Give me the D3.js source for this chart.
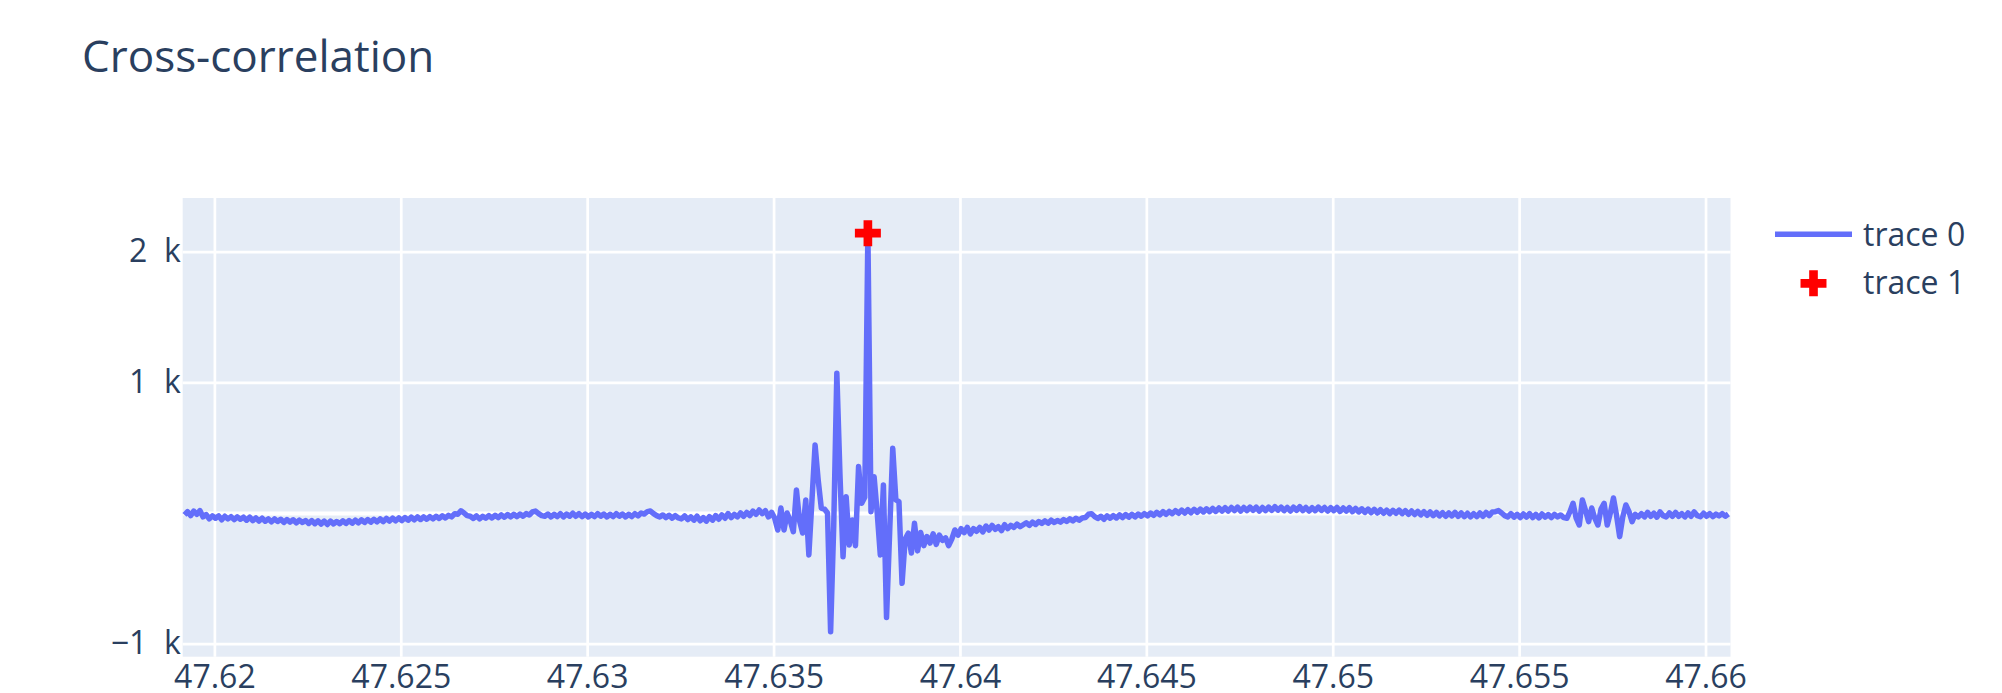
<!DOCTYPE html>
<html>
<head>
<meta charset="utf-8">
<script src="https://cdn.jsdelivr.net/npm/d3@7"></script>
<style>
  body { margin: 0; background: #fff; }
  text { font-family: "Open Sans", sans-serif; fill: #2a3f5f; }
</style>
</head>
<body>
<svg id="chart" width="2002" height="693"></svg>
<script>
var title = "Cross-correlation";

// cross-correlation lags, sampled at 12 kHz starting at startTime
var startTime = 47.619197;
var sampleRate = 12000;
var xcorr = [
  -15, 10, -20, 15, -10, 18, -30, -12, -45, -22,
  -40, -22, -52, -25, -45, -28, -50, -30, -48, -32,
  -55, -32, -58, -38, -62, -40, -63, -45, -68, -45,
  -65, -48, -72, -50, -70, -52, -75, -55, -72, -58,
  -80, -58, -82, -60, -85, -62, -88, -62, -84, -65,
  -82, -60, -80, -58, -78, -55, -75, -52, -72, -50,
  -70, -48, -68, -45, -66, -42, -62, -40, -60, -38,
  -58, -35, -55, -32, -52, -30, -50, -30, -48, -28,
  -45, -25, -42, -22, -38, -18, -30, -5, -10, 17,
  0, -20, -25, -42, -22, -45, -25, -40, -20, -38,
  -18, -35, -15, -32, -12, -30, -10, -28, -8, -25,
  -5, -15, 8, 15, -5, -20, -25, -8, -30, -10,
  -28, -5, -30, -8, -25, -2, -25, -5, -28, -8,
  -30, -10, -28, -5, -25, -8, -30, -10, -28, -5,
  -25, -8, -30, -10, -28, -5, -22, 0, -8, 10,
  15, -5, -20, -30, -15, -35, -18, -40, -20, -38,
  -45, -22, -50, -30, -55, -25, -60, -35, -62, -28,
  -55, -20, -48, -15, -40, -5, -35, -10, -30, 0,
  -25, 5, -20, 15, -10, 23, -5, 18, -30, 5,
  -40, -130, 38, -130, 0, -60, -143, 176, -60, -153,
  100, -321, 100, 520, 253, 38, 30, 0, -909, -100,
  1070, 300, -335, 125, -245, -54, -250, 355, 74, 120,
  2142, 10, 278, 0, -321, 214, -800, -150, 495, 100,
  87, -538, -200, -155, -306, -79, -290, -150, -250, -180,
  -230, -160, -240, -170, -210, -190, -250, -200, -130, -170,
  -120, -150, -110, -160, -120, -140, -110, -145, -100, -130,
  -95, -125, -105, -135, -90, -120, -95, -110, -85, -105,
  -90, -75, -95, -70, -88, -65, -80, -60, -78, -55,
  -72, -58, -70, -50, -65, -45, -60, -40, -55, -38,
  -35, -10, -5, -28, -42, -25, -48, -22, -40, -20,
  -38, -15, -35, -12, -32, -10, -30, -8, -25, -5,
  -22, 0, -18, 5, -15, 10, -10, 12, -5, 18,
  -2, 22, 0, 25, 2, 28, 5, 30, 8, 32,
  10, 35, 12, 38, 15, 40, 15, 42, 18, 45,
  15, 42, 18, 45, 20, 45, 15, 42, 18, 45,
  20, 48, 22, 45, 18, 42, 15, 45, 20, 48,
  18, 42, 15, 40, 18, 45, 20, 42, 15, 40,
  18, 42, 12, 38, 15, 40, 10, 35, 8, 32,
  5, 30, 2, 28, 0, 25, -2, 22, -5, 20,
  -2, 22, -5, 18, -10, 15, -12, 12, -15, 10,
  -18, 8, -20, 5, -22, 2, -25, 0, -22, 5,
  -25, 0, -28, -2, -30, -5, -28, 0, -25, 5,
  -20, 8, 10, 18, 0, -20, -30, -5, -32, -10,
  -35, -8, -32, -5, -35, -10, -38, -8, -32, -12,
  -35, -10, -30, -15, -35, -40, 10, 74, -40, -92,
  100, 20, -66, 38, -40, -92, 30, 74, -92, 0,
  115, -20, -181, -30, 61, 10, -66, -10, -30, -5,
  -30, 5, -25, -2, -32, 8, -20, -30, 0, -25,
  5, -25, -5, -30, 0, -25, 8, -20, -28, -2,
  -25, -5, -28, -8, -22, -5, -25, -8
];

// detected peak
var peakTime = [47.63753];
var peakValue = [2142];

var xTicks = [47.62, 47.625, 47.63, 47.635, 47.64, 47.645, 47.65, 47.655, 47.66];
var yTicks = [-1000, 0, 1000, 2000];
var legendNames = ["trace 0", "trace 1"];

var lineColor = "#636efa";
var markerColor = "#ff0000";

var plot = { left: 182.7, right: 1730.5, top: 198, bottom: 656.7 };

var svg = d3.select("#chart");

var x = d3.scaleLinear()
    .domain([47.61915, 47.66067])
    .range([plot.left, plot.right]);

var y = d3.scaleLinear()
    .domain([-1100, 2411])
    .range([plot.bottom, plot.top]);

var points = xcorr.map(function (v, i) {
    return { t: startTime + i / sampleRate, v: v };
});

// plot background
svg.append("rect")
    .attr("x", plot.left)
    .attr("y", plot.top)
    .attr("width", plot.right - plot.left)
    .attr("height", plot.bottom - plot.top)
    .attr("fill", "#e5ecf6");

// grid
svg.append("g")
    .attr("transform", "translate(0," + plot.bottom + ")")
    .call(d3.axisBottom(x).tickValues(xTicks).tickSize(-(plot.bottom - plot.top)).tickFormat(""))
    .call(function (g) {
        g.select(".domain").remove();
        g.selectAll("line").attr("stroke", "#fff").attr("stroke-width", 2.7);
    });

svg.append("g")
    .attr("transform", "translate(" + plot.left + ",0)")
    .call(d3.axisLeft(y).tickValues(yTicks).tickSize(-(plot.right - plot.left)).tickFormat(""))
    .call(function (g) {
        g.select(".domain").remove();
        g.selectAll("line")
            .attr("stroke", "#fff")
            .attr("stroke-width", function (d) { return d === 0 ? 4.2 : 2.7; });
    });

// trace 0
var line = d3.line()
    .x(function (d) { return x(d.t); })
    .y(function (d) { return y(d.v); });

svg.append("path")
    .datum(points)
    .attr("d", line)
    .attr("fill", "none")
    .attr("stroke", lineColor)
    .attr("stroke-width", 5.5)
    .attr("stroke-linejoin", "round");

// trace 1
var cross = d3.symbol().type(d3.symbolCross).size(375);

svg.append("g")
    .selectAll("path")
    .data(peakTime)
    .enter().append("path")
    .attr("d", cross)
    .attr("transform", function (d, i) {
        return "translate(" + x(d) + "," + y(peakValue[i]) + ")";
    })
    .attr("fill", markerColor);

// tick labels
svg.append("g")
    .attr("transform", "translate(0," + plot.bottom + ")")
    .call(d3.axisBottom(x).tickValues(xTicks).tickSize(0).tickPadding(9)
        .tickFormat(function (d) { return String(d); }))
    .call(function (g) {
        g.select(".domain").remove();
        g.selectAll("text").attr("font-size", 32).attr("fill", "#2a3f5f")
            .attr("font-family", "Open Sans, sans-serif");
    });

svg.append("g")
    .attr("transform", "translate(" + plot.left + ",0)")
    .call(d3.axisLeft(y).tickValues(yTicks).tickSize(0).tickPadding(2)
        .tickFormat(function (d) {
            if (d === 0) return "";
            var n = d / 1000;
            return (n < 0 ? "\u2212" + (-n) : n) + "\u00a0\u00a0k";
        }))
    .call(function (g) {
        g.select(".domain").remove();
        g.selectAll("text").attr("font-size", 32).attr("fill", "#2a3f5f")
            .attr("font-family", "Open Sans, sans-serif");
    });

// legend
var legend = svg.append("g").attr("transform", "translate(1775,234.3)");

legend.append("line")
    .attr("x1", 0).attr("x2", 77)
    .attr("y1", 0).attr("y2", 0)
    .attr("stroke", lineColor)
    .attr("stroke-width", 5.5);

legend.append("path")
    .attr("d", cross)
    .attr("transform", "translate(38.5,49)")
    .attr("fill", markerColor);

legend.selectAll("text.name")
    .data(legendNames)
    .enter().append("text")
    .attr("class", "name")
    .attr("x", 88)
    .attr("y", function (d, i) { return i * 49; })
    .attr("dy", "0.35em")
    .attr("font-size", 32)
    .text(function (d) { return d; });

// title
svg.append("text")
    .attr("x", 82)
    .attr("y", 71.7)
    .attr("font-size", 44)
    .text(title);
</script>
</body>
</html>
